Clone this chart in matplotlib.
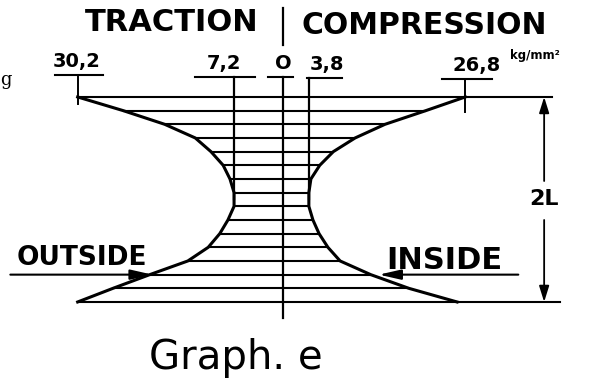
import numpy as np
import matplotlib.pyplot as plt

# stress along 2L, kg/mm^2 (traction < 0 on the outside, compression > 0 on the inside)
levels = np.linspace(1, -1, 16)          # hatch levels, top -> bottom, in units of L
outside = [-30.2, -23.5, -17.4, -12.9, -10.6, -8.8, -7.8, -7.2,
           -7.2, -8.1, -9.3, -11.0, -14.0, -19.6, -25.0, -30.2]
inside = [26.8, 21.0, 15.0, 10.6, 7.4, 5.4, 4.1, 3.8,
          3.8, 4.4, 5.3, 6.6, 8.4, 12.9, 18.5, 25.6]
marked = [-30.2, -7.2, 0, 3.8, 26.8]
marked_txt = ['30,2', '7,2', 'O', '3,8', '26,8']

fig = plt.figure(figsize=(5.98, 3.89), dpi=100)
ax = fig.add_axes([0, 0, 1, 1])
ax.set_xlim(-41.62, 46.32)
ax.set_ylim(-1.849, 1.946)
ax.axis('off')

k = 'black'
# hatching
for z, a, b in zip(levels, outside, inside):
    ax.plot([a, b], [z, z], color=k, lw=1.5, solid_capstyle='butt')
ax.plot([inside[0], 39.6], [1, 1], color=k, lw=1.5)
ax.plot([inside[-1], 40.7], [-1, -1], color=k, lw=1.5)

# curves
ax.plot(outside, levels, color=k, lw=2.2)
ax.plot(inside, levels, color=k, lw=2.2)

# verticals
ax.plot([0, 0], [1.195, -1.156], color=k, lw=1.6)
ax.plot([-7.2, -7.2], [1.195, 0], color=k, lw=1.6)
ax.plot([3.8, 3.8], [1.185, 0], color=k, lw=1.6)
ax.plot([-30.2, -30.2], [1.195, 0.932], color=k, lw=1.4)
ax.plot([26.8, 26.8], [1.176, 0.854], color=k, lw=1.4)

# value labels with underline bars
bars = [(-33.6, -26.4, 1.215), (-12.9, -4.1, 1.195), (-2.2, 1.5, 1.195),
        (3.5, 8.7, 1.185), (23.4, 30.7, 1.176)]
lab_x = [-30.4, -8.7, 0, 6.5, 28.4]
for (x0, x1, y), tx, t in zip(bars, lab_x, marked_txt):
    ax.plot([x0, x1], [y, y], color=k, lw=1.5)
    ax.text(tx, y + 0.04, t, ha='center', va='bottom', fontsize=14,
            fontweight='bold', color=k)
ax.text(33.4, 1.40, 'kg/mm²', ha='left', va='center', fontsize=8.5,
        fontweight='bold', color=k)

# headers
ax.text(-16.3, 1.722, 'TRACTION', ha='center', va='center', fontsize=22,
        fontweight='bold', color=k)
ax.text(20.7, 1.702, 'COMPRESSION', ha='center', va='center', fontsize=21.5,
        fontweight='bold', color=k)
ax.plot([0, 0], [1.868, 1.507], color=k, lw=1.6)

# OUTSIDE / INSIDE pointers on hatch line 13
head = '-|>,head_length=1.1,head_width=0.25'
ax.annotate('', xy=(outside[13] + 0.4, levels[13]), xytext=(-40.1, levels[13]),
            arrowprops=dict(arrowstyle=head, color=k, lw=1.5,
                            mutation_scale=12, shrinkA=0, shrinkB=0))
ax.annotate('', xy=(inside[13] + 1.2, levels[13]), xytext=(34.6, levels[13]),
            arrowprops=dict(arrowstyle=head, color=k, lw=1.5,
                            mutation_scale=12, shrinkA=0, shrinkB=0))
ax.text(-29.6, -0.571, 'OUTSIDE', ha='center', va='center', fontsize=19,
        fontweight='bold', color=k)
ax.text(23.7, -0.6, 'INSIDE', ha='center', va='center', fontsize=22,
        fontweight='bold', color=k)

# 2L dimension
for y0, y1 in [(0.18, 1.0), (-0.2, -1.0)]:
    ax.annotate('', xy=(38.4, y1), xytext=(38.4, y0),
                arrowprops=dict(arrowstyle='-|>,head_length=0.8,head_width=0.25',
                                color=k, lw=1.3, mutation_scale=12, shrinkA=0, shrinkB=0))
ax.text(38.4, 0.0, '2L', ha='center', va='center', fontsize=16,
        fontweight='bold', color=k)

ax.text(-6.9, -1.546, 'Graph. e', ha='center', va='center', fontsize=29, color=k)
ax.text(-41.55, 1.165, 'g', ha='left', va='center', fontsize=13,
        family='DejaVu Serif', color=k)

fig.savefig('out.png', dpi=100)
